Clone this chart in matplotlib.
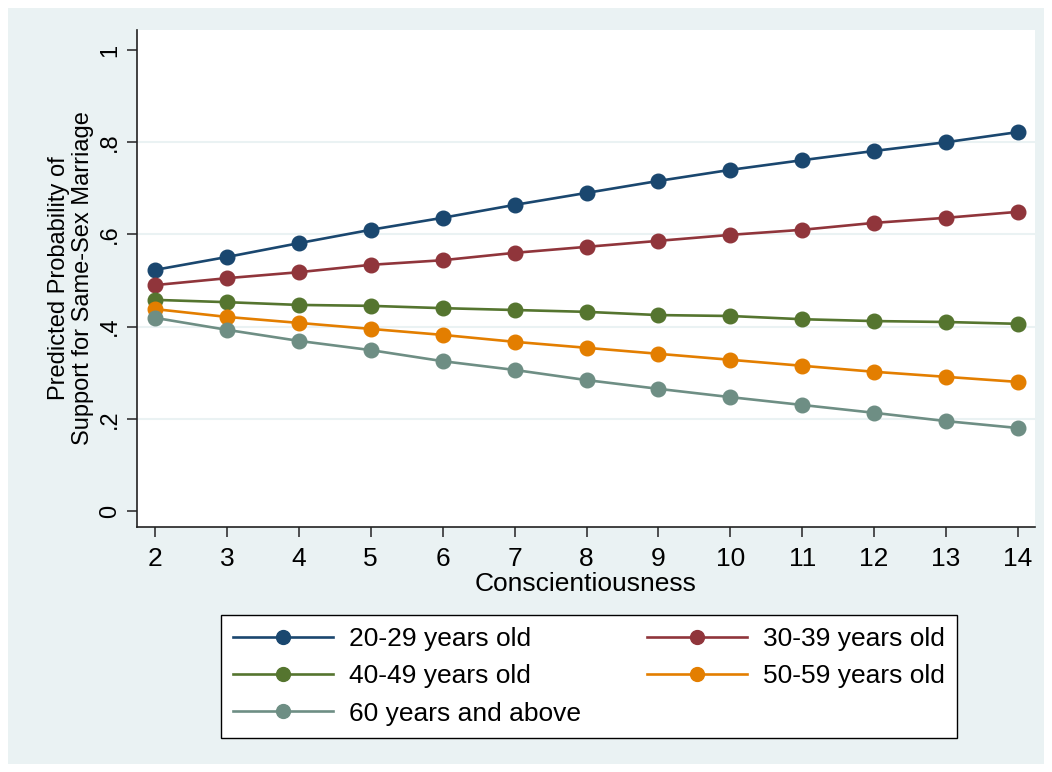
import matplotlib
matplotlib.use("Agg")
import matplotlib.pyplot as plt
from matplotlib.patches import Rectangle

plt.rcParams['font.family'] = ['Liberation Sans', 'DejaVu Sans']

x = [2, 3, 4, 5, 6, 7, 8, 9, 10, 11, 12, 13, 14]
age_20_29 = [0.523, 0.551, 0.581, 0.610, 0.636, 0.664, 0.690, 0.716, 0.740, 0.761, 0.781, 0.800, 0.822]
age_30_39 = [0.490, 0.505, 0.518, 0.534, 0.544, 0.560, 0.573, 0.586, 0.599, 0.610, 0.625, 0.636, 0.649]
age_40_49 = [0.458, 0.453, 0.447, 0.445, 0.440, 0.436, 0.432, 0.425, 0.423, 0.416, 0.412, 0.410, 0.406]
age_50_59 = [0.438, 0.421, 0.408, 0.395, 0.382, 0.367, 0.354, 0.341, 0.328, 0.315, 0.302, 0.291, 0.280]
age_60_up = [0.419, 0.393, 0.369, 0.349, 0.325, 0.306, 0.284, 0.265, 0.247, 0.230, 0.213, 0.195, 0.180]
labels = ["20-29 years old", "30-39 years old", "40-49 years old", "50-59 years old", "60 years and above"]
colors = ["#1A476F", "#90353B", "#55752F", "#E37E00", "#6E8E84"]
yticks = [0, 0.2, 0.4, 0.6, 0.8, 1]
yticklabels = ["0", ".2", ".4", ".6", ".8", "1"]

FS = 19
FSY = 17

W, H = 1052, 772
L, R, T, B = 137, 1035, 30, 527

fig = plt.figure(figsize=(W/100, H/100), dpi=100)
fig.patch.set_facecolor("white")
fig.patches.append(Rectangle((8/W, 8/H), (1044-8)/W, (764-8)/H,
                             transform=fig.transFigure, facecolor="#EAF2F3",
                             edgecolor="none", zorder=-10))

ax = fig.add_axes([L/W, 1-B/H, (R-L)/W, (B-T)/H])
ax.set_facecolor("white")

series = [age_20_29, age_30_39, age_40_49, age_50_59, age_60_up]
handles = []
for s, lab, c in zip(series, labels, colors):
    h, = ax.plot(x, s, color=c, lw=1.9, marker="o", markersize=10.5, label=lab, zorder=3)
    handles.append(h)

ax.set_xlim(2 - 18/71.9, 14 + 17/71.9)
ax.set_ylim(-16/461, 1 + 20/461)
ax.set_xticks(x)
ax.set_yticks(yticks)
ax.set_yticklabels(yticklabels, rotation=90, va="center", fontsize=FSY)
for t in [0.2, 0.4, 0.6, 0.8]:
    ax.axhline(t, color="#EAF2F3", lw=1.5, zorder=1)

for sp in ["top", "right"]:
    ax.spines[sp].set_visible(False)
for sp in ["left", "bottom"]:
    ax.spines[sp].set_color("#222222")
    ax.spines[sp].set_linewidth(1.2)
ax.tick_params(axis="both", direction="out", length=7.2, width=1.2, color="#333333")
ax.tick_params(axis="x", pad=7.5, labelsize=FS)
ax.tick_params(axis="y", pad=4.3)

ax.set_xlabel("Conscientiousness", fontsize=FS, labelpad=0.5)
ax.set_ylabel("Predicted Probability of\nSupport for Same-Sex Marriage", fontsize=FSY,
              linespacing=1.15)
ax.yaxis.set_label_coords((94.5 - L) / (R - L), 0.5)

order = [0, 2, 4, 1, 3]
leg = fig.legend([handles[i] for i in order], [labels[i] for i in order], ncol=2,
                 loc="center", bbox_to_anchor=(589/W, 1-676.5/H),
                 fontsize=FS, frameon=True, fancybox=False, edgecolor="black",
                 facecolor="white", framealpha=1.0,
                 handlelength=3.8, handletextpad=0.6, columnspacing=2.5,
                 borderpad=0.45, labelspacing=0.5, markerscale=0.95)
leg.get_frame().set_linewidth(1.0)

fig.savefig("out.png", dpi=100, facecolor=fig.get_facecolor())
